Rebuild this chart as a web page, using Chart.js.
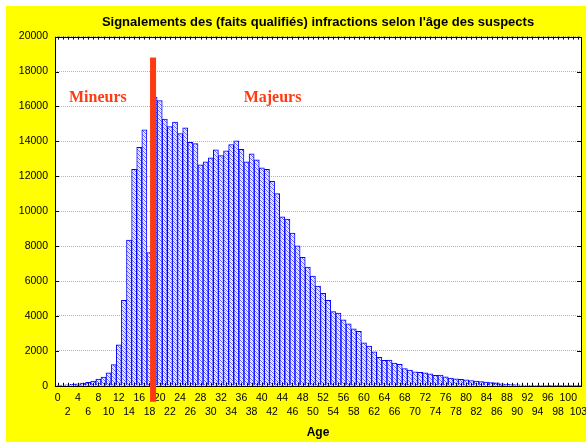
<!DOCTYPE html>
<html>
<head>
<meta charset="utf-8">
<script src="https://cdn.jsdelivr.net/npm/chart.js@4.4.1/dist/chart.umd.min.js"></script>
<style>
  html, body { margin: 0; padding: 0; background: #ffffff; overflow: hidden; }
  #chart { position: absolute; left: 6px; top: 6px; background: #ffff00; }
</style>
</head>
<body>
<canvas id="chart" width="594" height="436"></canvas>
<script>
/* Ages (categories) */
const ages = [0, 1, 2, 3, 4, 5, 6, 7, 8, 9,
  10, 11, 12, 13, 14, 15, 16, 17, 18, 19,
  20, 21, 22, 23, 24, 25, 26, 27, 28, 29,
  30, 31, 32, 33, 34, 35, 36, 37, 38, 39,
  40, 41, 42, 43, 44, 45, 46, 47, 48, 49,
  50, 51, 52, 53, 54, 55, 56, 57, 58, 59,
  60, 61, 62, 63, 64, 65, 66, 67, 68, 69,
  70, 71, 72, 73, 74, 75, 76, 77, 78, 79,
  80, 81, 82, 83, 84, 85, 86, 87, 88, 89,
  90, 91, 92, 93, 94, 95, 96, 97, 98, 99,
  100, 101, 103];

/* Nombre de signalements par age */
const signalements = [40, 45, 60, 80, 110, 150, 200, 270, 380, 500,
  750, 1210, 2340, 4890, 8340, 12400, 13660, 14660, 7630, 16540,
  16330, 15280, 14840, 15110, 14440, 14780, 13950, 13870, 12650, 12825,
  13055, 13515, 13190, 13455, 13820, 14030, 13550, 12825, 13285, 12940,
  12480, 12400, 11710, 11010, 9680, 9545, 8740, 8010, 7360, 6805,
  6290, 5710, 5290, 4900, 4255, 4170, 3785, 3545, 3260, 3115,
  2455, 2270, 1940, 1630, 1460, 1470, 1300, 1235, 980, 900,
  805, 767, 750, 690, 595, 610, 517, 440, 400, 365,
  345, 305, 275, 245, 215, 190, 165, 110, 85, 65,
  50, 40, 30, 25, 20, 15, 12, 10, 8, 6,
  5, 4, 3];

/* Axe Y */
const yMin = 0;
const yMax = 20000;
const yStep = 2000;

/* Annotations */
const ageLimite = 18.7;
const limiteHaut = 18800;
const annotations = [
  { text: 'Mineurs', age: 7.9, value: 16500 },
  { text: 'Majeurs', age: 42.1, value: 16500 }
];

const rouge = '#ff3a12';
const bleu = '#0000ff';

/* Motif hachure des barres */
function makePattern() {
  const c = document.createElement('canvas');
  c.width = 4; c.height = 4;
  const g = c.getContext('2d');
  g.fillStyle = '#ffffff';
  g.fillRect(0, 0, 4, 4);
  for (let y = 0; y < 4; y++) {
    for (let x = 0; x < 4; x++) {
      const d = (x - y + 8) % 4;
      if (d === 0) { g.fillStyle = '#5a5aff'; g.fillRect(x, y, 1, 1); }
      if (d === 2) { g.fillStyle = '#c4c4ff'; g.fillRect(x, y, 1, 1); }
    }
  }
  return g.createPattern(c, 'repeat');
}

const cadrePlugin = {
  id: 'cadre',
  beforeDraw(chart) {
    const a = chart.chartArea;
    const ctx = chart.ctx;
    ctx.save();
    ctx.fillStyle = '#ffffff';
    ctx.fillRect(a.left, a.top, a.right - a.left, a.bottom - a.top);
    ctx.restore();
  },
  afterDraw(chart) {
    const a = chart.chartArea;
    const ctx = chart.ctx;
    const xs = chart.scales.x;
    const ys = chart.scales.y;
    ctx.save();

    /* cadre et graduations */
    ctx.strokeStyle = '#000000';
    ctx.lineWidth = 1;
    ctx.strokeRect(Math.round(a.left) + 0.5, Math.round(a.top) + 0.5,
      Math.round(a.right - a.left), Math.round(a.bottom - a.top));
    ctx.beginPath();
    for (let i = 0; i < ages.length; i++) {
      const x = Math.round(xs.getPixelForValue(i)) + 0.5;
      ctx.moveTo(x, a.bottom); ctx.lineTo(x, a.bottom - 3);
      ctx.moveTo(x, a.top); ctx.lineTo(x, a.top + 3);
    }
    for (let v = yMin; v <= yMax; v += yStep) {
      const y = Math.round(ys.getPixelForValue(v)) + 0.5;
      ctx.moveTo(a.left, y); ctx.lineTo(a.left + 4, y);
      ctx.moveTo(a.right, y); ctx.lineTo(a.right - 4, y);
    }
    ctx.stroke();

    /* ligne rouge : majorite */
    const xl = xs.getPixelForValue(ageLimite);
    const yt = ys.getPixelForValue(limiteHaut);
    ctx.fillStyle = rouge;
    ctx.fillRect(xl - 3, yt, 6, ys.getPixelForValue(yMin) + 16 - yt);

    /* textes */
    ctx.font = 'bold 16px "Liberation Serif", "DejaVu Serif", serif';
    ctx.textAlign = 'center';
    ctx.textBaseline = 'middle';
    annotations.forEach(t => {
      ctx.fillText(t.text, xs.getPixelForValue(t.age), ys.getPixelForValue(t.value));
    });
    ctx.restore();
  }
};

const ctx = document.getElementById('chart');
new Chart(ctx, {
  type: 'bar',
  data: {
    labels: ages,
    datasets: [{
      label: 'Signalements',
      data: signalements,
      backgroundColor: makePattern(),
      borderColor: bleu,
      borderWidth: 1,
      borderSkipped: 'bottom',
      categoryPercentage: 1.0,
      barPercentage: 1.0
    }]
  },
  options: {
    responsive: false,
    animation: false,
    devicePixelRatio: 1,
    layout: { padding: { left: 0, right: 19, top: 0, bottom: 0 } },
    plugins: {
      legend: { display: false },
      tooltip: { enabled: false },
      title: {
        display: true,
        fullSize: false,
        text: "Signalements des (faits qualifiés) infractions selon l'âge des suspects",
        color: '#000000',
        font: { family: '"Liberation Sans", Arial, sans-serif', size: 13, weight: 'bold' },
        padding: { top: 9, bottom: 6 }
      }
    },
    scales: {
      x: {
        grid: { display: false, drawTicks: false },
        border: { display: false },
        ticks: {
          autoSkip: false,
          maxRotation: 0,
          minRotation: 0,
          padding: 6,
          color: '#000000',
          font: { family: '"Liberation Sans", Arial, sans-serif', size: 10.5, lineHeight: '13.4px' },
          callback: function (value, index) {
            if (index % 2) return '';
            const a = String(ages[index]);
            return index % 4 === 0 ? [a, ''] : ['', a];
          }
        },
        title: {
          display: true,
          text: 'Age',
          color: '#000000',
          font: { family: '"Liberation Sans", Arial, sans-serif', size: 12, weight: 'bold' },
          padding: { top: 1, bottom: 2 }
        }
      },
      y: {
        min: yMin,
        max: yMax,
        afterFit: function (scale) { scale.width = 49; },
        grid: { color: '#b4b4b4', lineWidth: 1, drawTicks: false },
        border: { display: false, dash: [1, 1] },
        ticks: {
          stepSize: yStep,
          padding: 7,
          color: '#000000',
          font: { family: '"Liberation Sans", Arial, sans-serif', size: 10.5 },
          callback: value => String(value)
        }
      }
    }
  },
  plugins: [cadrePlugin]
});
</script>
</body>
</html>
